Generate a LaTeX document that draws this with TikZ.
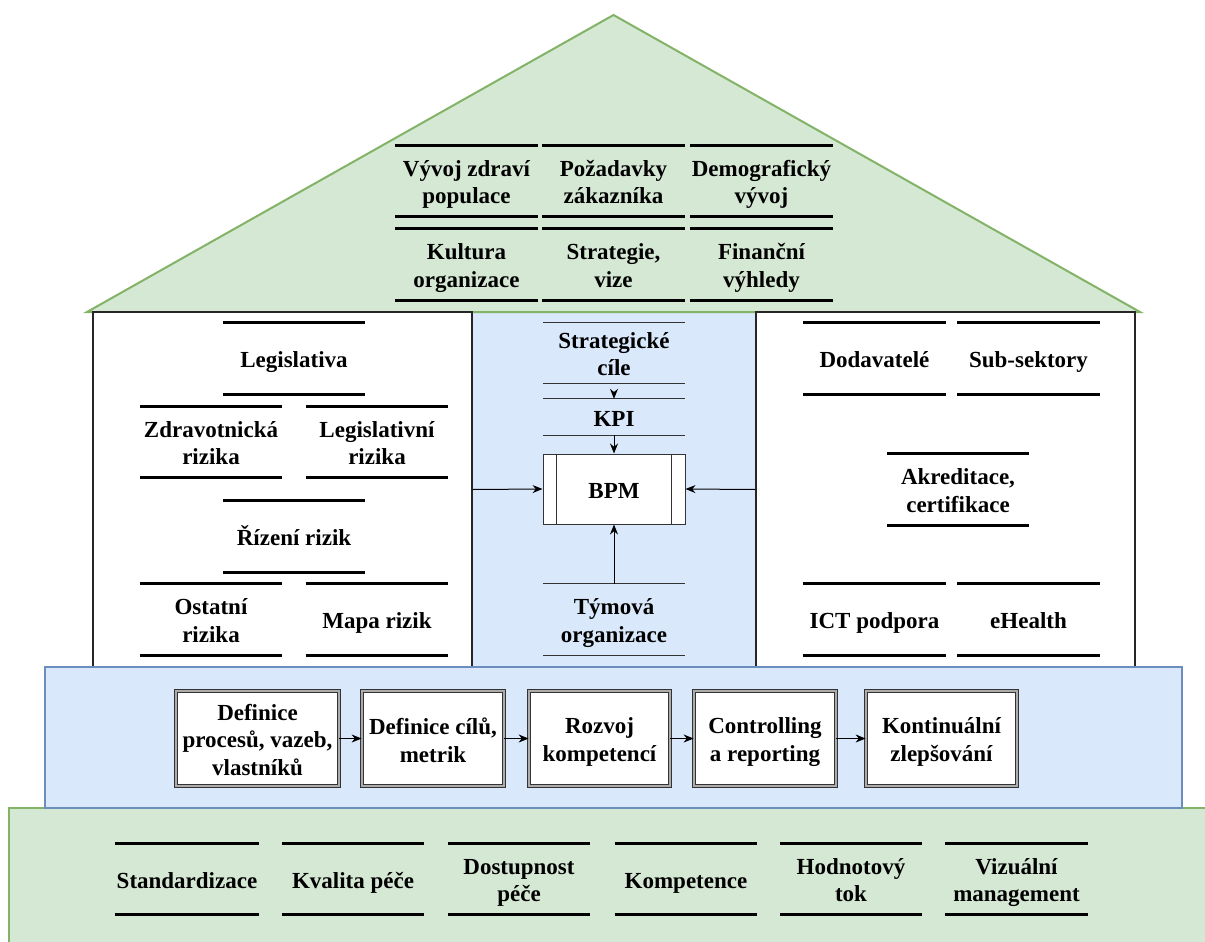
\documentclass[tikz,border=0pt]{standalone}
\usepackage{fontspec}
\setmainfont{Liberation Serif}
\newfontfamily\tnrfont{Liberation Serif}
\usetikzlibrary{arrows.meta}
\definecolor{gfill}{HTML}{D5E8D4}
\definecolor{gline}{HTML}{82B366}
\definecolor{bfill}{HTML}{DAE8FC}
\definecolor{bline}{HTML}{6C8EBF}
\tikzset{
  txt/.style={font=\tnrfont\fontsize{23}{27.5}\selectfont\bfseries, align=center, inner sep=0pt, text height=20pt, text depth=2pt},
  two/.style={text height=47.5pt},
  three/.style={text height=75pt},
  shelf/.style={txt, minimum width=142pt, minimum height=71pt},
  thickline/.style={line width=3pt, black},
  thinline/.style={line width=1pt, black!80},
  panel/.style={draw=black!85, line width=1.6pt, fill=white, inner sep=0pt},
  procbox/.style={txt, draw=black!80, line width=0.8pt, double=gray!65, double distance=2.4pt, fill=white, minimum height=95pt},
  conn/.style={line width=1pt, -{Stealth[length=10pt,width=8pt]}}
}
\begin{document}
\begin{tikzpicture}[x=1pt,y=-1pt]
\clip (0,0) rectangle (1205,942);
\fill[white] (0,0) rectangle (1205,942);
% base layers
\draw[fill=gfill, draw=gline, line width=2pt] (9,808) rectangle (1220,960);
\draw[fill=bfill, draw=bline, line width=1.5pt] (472,312) rectangle (756,667);
\draw[fill=gfill, draw=gline, line width=2pt, line join=miter] (87,312) -- (613.5,15) -- (1140,312) -- cycle;
\node[panel, minimum width=379pt, minimum height=355pt] (lp) at (282.5,489.5) {};
\node[panel, minimum width=379pt, minimum height=355pt] (rp) at (945.5,489.5) {};
\draw[fill=bfill, draw=bline, line width=2pt] (45,667) rectangle (1182,808);

% roof
\node[shelf, two] (r11) at (466.5,181) {Vývoj zdraví\\populace};
\node[shelf, two] (r12) at (613.5,181) {Požadavky\\zákazníka};
\node[shelf, two] (r13) at (761.5,181) {Demografický\\vývoj};
\node[shelf, two] (r21) at (466.5,264.5) {Kultura\\organizace};
\node[shelf, two] (r22) at (613.5,264.5) {Strategie,\\vize};
\node[shelf, two] (r23) at (761.5,264.5) {Finanční\\výhledy};

% left panel
\node[shelf] (leg) at (294,358.5) {Legislativa};
\node[shelf, two] (zr) at (211,442) {Zdravotnická\\rizika};
\node[shelf, two] (lr) at (377,442) {Legislativní\\rizika};
\node[shelf] (rr) at (294,536.5) {Řízení rizik};
\node[shelf, two] (ost) at (211,619.5) {Ostatní\\rizika};
\node[shelf] (mr) at (377,619.5) {Mapa rizik};

% right panel
\node[shelf] (dod) at (874.5,358.5) {Dodavatelé};
\node[shelf] (sub) at (1028.5,358.5) {Sub-sektory};
\node[shelf, two] (akr) at (958,489.5) {Akreditace,\\certifikace};
\node[shelf] (ict) at (874.5,619.5) {ICT podpora};
\node[shelf] (eh) at (1028.5,619.5) {eHealth};

% bottom
\node[shelf, minimum width=144pt] (b1) at (187,879) {Standardizace};
\node[shelf] (b2) at (353,879) {Kvalita péče};
\node[shelf, two] (b3) at (519,879) {Dostupnost\\péče};
\node[shelf] (b4) at (686,879) {Kompetence};
\node[shelf, two] (b5) at (851,879) {Hodnotový\\tok};
\node[shelf, two] (b6) at (1016.5,879) {Vizuální\\management};

\foreach \n in {r11,r12,r13,r21,r22,r23,leg,zr,lr,rr,ost,mr,dod,sub,akr,ict,eh,b1,b2,b3,b4,b5,b6}
  \draw[thickline] (\n.north west) -- (\n.north east) (\n.south west) -- (\n.south east);

% center
\node[shelf, two, minimum height=60pt] (sc) at (614,353) {Strategické\\cíle};
\node[shelf, minimum height=36pt] (kpi) at (614,417) {KPI};
\node[shelf, two] (tym) at (614,619.5) {Týmová\\organizace};
\foreach \n in {sc,kpi,tym}
  \draw[thinline] (\n.north west) -- (\n.north east) (\n.south west) -- (\n.south east);
\node[txt, draw=black!80, line width=1pt, fill=white, minimum width=142pt, minimum height=70pt] (bpm) at (614,489) {BPM};
\draw[thinline] ([xshift=14pt]bpm.north west) -- ([xshift=14pt]bpm.south west);
\draw[thinline] ([xshift=-14pt]bpm.north east) -- ([xshift=-14pt]bpm.south east);

\draw[conn] ([yshift=-11pt]sc.south) -- (kpi.north);
\draw[conn] (kpi.south) -- (bpm.north);
\draw[conn] (tym.north) -- (bpm.south);
\draw[conn] (lp.east) -- (bpm.west);
\draw[conn] (rp.west) -- (bpm.east);

% process row
\node[procbox, three, minimum width=163pt] (p1) at (257.5,738.5) {Definice\\procesů, vazeb,\\vlastníků};
\node[procbox, two, minimum width=142pt, text depth=-3pt, minimum height=95pt] (p2) at (433,738.5) {Definice cílů,\\metrik};
\node[procbox, two, minimum width=141pt] (p3) at (599.5,738.5) {Rozvoj\\kompetencí};
\node[procbox, two, minimum width=142pt] (p4) at (765,738.5) {Controlling\\a reporting};
\node[procbox, two, minimum width=151pt] (p5) at (941.5,738.5) {Kontinuální\\zlepšování};
\draw[conn] (p1) -- (p2);
\draw[conn] (p2) -- (p3);
\draw[conn] (p3) -- (p4);
\draw[conn] (p4) -- (p5);
\end{tikzpicture}
\end{document}
